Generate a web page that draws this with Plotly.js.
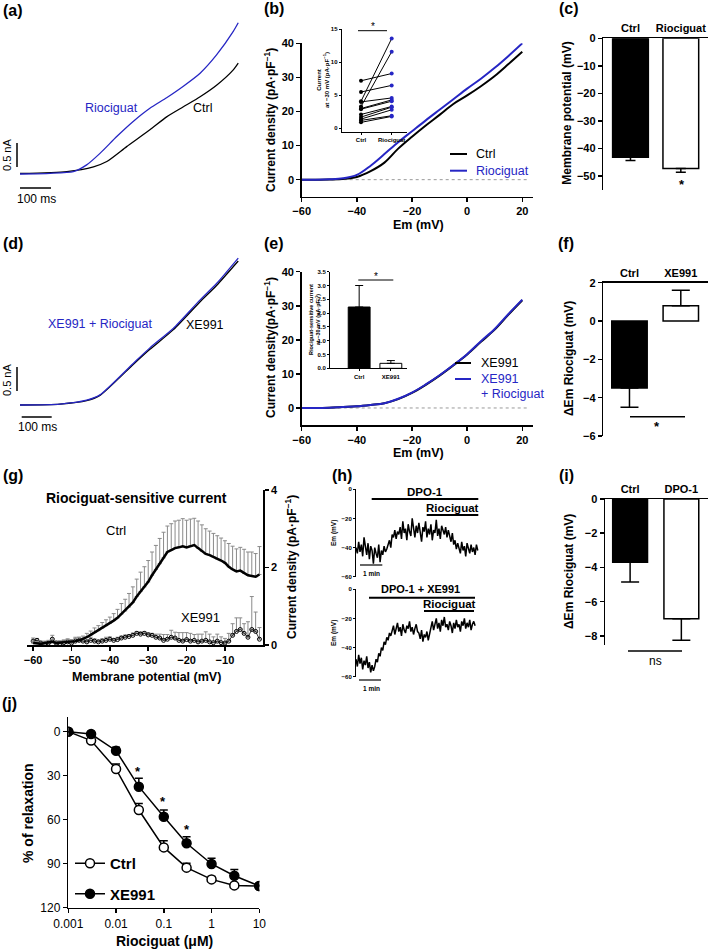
<!DOCTYPE html>
<html><head><meta charset="utf-8">
<script src="https://cdn.plot.ly/plotly-3.0.1.min.js"></script>
<style>html,body{margin:0;padding:0;background:#fff}</style>
</head><body>
<div id="chart" style="width:709px;height:950px"></div>
<script>
// ===================== DATA =====================
// (a) raw current traces: time (ms) / current (nA)
const aCtrlT = [0,151,237,280,344,419,473,527,581,634,688,704];
const aCtrlI = [0.01,0.05,0.15,0.26,0.57,0.92,1.19,1.40,1.61,1.85,2.17,2.31];
const aRioT  = [0,97,172,215,258,312,366,419,473,527,581,634,688,704];
const aRioI  = [0,0.014,0.05,0.19,0.43,0.78,1.10,1.37,1.59,1.83,2.10,2.48,2.97,3.15];
// (d) raw current traces
const dT      = [0,129,215,258,366,419,495,581,634,704];
const dXE     = [0,0.02,0.09,0.20,0.85,1.16,1.57,2.15,2.49,3.00];
const dXERio  = [0,0.02,0.10,0.21,0.87,1.19,1.60,2.19,2.53,3.06];
// (b)/(e) I-V curves
const ivV   = [-60,-55,-50,-45,-40,-35,-30,-25,-20,-15,-10,-5,0,5,10,15,20];
const bCtrl = [0,0,0.05,0.2,0.8,2.5,5.0,9.1,12.6,15.9,19.0,22.2,24.7,27.4,30.4,33.9,37.5];
const bRio  = [0,0,0.1,0.4,1.4,4.1,7.5,11.0,14.2,17.4,20.5,23.6,26.7,29.6,32.8,36.3,40.0];
const eXE    = [0,0,0.1,0.3,0.5,0.9,1.4,2.6,4.4,6.8,9.5,12.5,15.7,19.4,23.0,27.4,31.6];
const eXERio = [0,0,0.1,0.3,0.5,0.9,1.4,2.7,4.5,6.9,9.6,12.6,15.8,19.6,23.2,27.6,31.8];
// (b) inset: paired current at -30 mV
const insCats = ['Ctrl','Riociguat'];
const insCtrl = [7.2,5.5,4.1,3.3,4.0,3.0,2.9,2.1,1.7,1.4,1.2,0.9];
const insRio  = [8.3,6.5,13.6,11.6,4.6,4.3,4.1,3.3,3.2,2.8,1.9,1.8];
// (c) membrane potential
const cCats = ['Ctrl','Riociguat'];
const cVals = [-43.1,-47.2];
const cErr  = [1.2,1.4];
// (e) inset
const eInsCats = ['Ctrl','XE991'];
const eInsVals = [2.22,0.18];
const eInsErr  = [0.78,0.10];
// (f)
const fCats = ['Ctrl','XE991'];
const fVals = [-3.5,0.8];
const fErrDown = [1.0,0];
const fErrUp   = [0,0.8];
// (g) riociguat-sensitive current, -60 .. -1 mV in 1 mV steps
const gStartV = -60, gStepV = 1;
const gCtrl = [0.05,0.04,0.03,0.05,0.06,0.08,0.05,0.06,0.07,0.08,
  0.08,0.10,0.12,0.15,0.20,0.26,0.32,0.37,0.44,0.50,
  0.56,0.63,0.70,0.80,0.88,0.98,1.10,1.25,1.38,1.50,
  1.63,1.80,1.95,2.10,2.25,2.40,2.45,2.50,2.52,2.55,
  2.52,2.56,2.58,2.50,2.42,2.35,2.32,2.28,2.22,2.18,
  2.12,2.02,1.95,1.90,1.92,1.85,1.80,1.78,1.76,1.82];
const gCtrlErr = [0.05,0.05,0.04,0.05,0.06,0.06,0.05,0.05,0.06,0.06,
  0.06,0.07,0.08,0.08,0.10,0.10,0.12,0.13,0.14,0.15,
  0.16,0.18,0.22,0.27,0.30,0.35,0.40,0.45,0.50,0.52,
  0.55,0.60,0.62,0.65,0.66,0.67,0.68,0.70,0.70,0.71,
  0.70,0.69,0.69,0.70,0.68,0.65,0.62,0.60,0.60,0.58,
  0.57,0.60,0.60,0.58,0.60,0.62,0.60,0.62,0.60,0.72];
const gXE = [0.10,0.12,0.05,0.03,0.05,0.15,0.05,0.04,0.06,0.08,
  0.05,0.10,0.12,0.10,0.08,0.12,0.10,0.08,0.10,0.12,
  0.15,0.12,0.14,0.18,0.20,0.22,0.25,0.30,0.28,0.30,
  0.26,0.25,0.20,0.18,0.12,0.15,0.20,0.18,0.12,0.10,
  0.14,0.10,0.12,0.08,0.10,0.12,0.08,0.06,0.10,0.06,
  0.05,0.10,0.25,0.35,0.40,0.30,0.20,0.40,0.35,0.15];
const gXEErr = [0.08,0.05,0.05,0.04,0.05,0.10,0.05,0.05,0.06,0.08,
  0.06,0.10,0.08,0.06,0.05,0.08,0.06,0.05,0.06,0.08,
  0.06,0.05,0.06,0.05,0.06,0.05,0.06,0.05,0.06,0.05,
  0.06,0.05,0.08,0.10,0.15,0.12,0.18,0.15,0.20,0.22,
  0.18,0.20,0.15,0.20,0.18,0.22,0.20,0.15,0.18,0.15,
  0.12,0.20,0.30,0.35,0.30,0.25,0.40,0.85,0.50,0.30];
// (h) Em recordings (mV), sampled every 0.06 min
const hStepMin = 0.06;
const hDpo = [-40,-44,-36,-43,-38,-46,-33,-41,-45,-37,-48,-39,-42,-51,-40,-44,-47,-38,-50,-42,-45,-39,-43,-41,
  -38,-35,-40,-31,-33,-28,-34,-29,
  -31,-26,-34,-22,-30,-27,-35,-24,-29,-32,-20,-28,-33,-25,-30,-23,-31,-36,-26,-29,-22,-33,-27,-31,-24,-35,-28,-30,-21,-32,-27,-34,-25,-29,-31,-26,-33,-28,
  -32,-36,-30,-38,-35,-41,-37,
  -40,-44,-36,-42,-39,-46,-37,-41,-44,-38,-43,-40,-45,-38,-42];
const hDpoXe = [-48,-53,-45,-51,-47,-55,-49,-52,-46,-54,-50,-57,-52,-56,
  -53,-48,-50,-44,-46,-40,-42,-36,-38,-33,-35,-30,-32,
  -28,-25,-31,-27,-23,-29,-26,-32,-24,-28,-30,-25,-27,-22,-29,-26,-31,-27,-24,-29,
  -30,-34,-28,-36,-31,-33,-29,-35,-30,
  -26,-22,-28,-24,-20,-27,-23,-29,-21,-25,-19,-26,-24,-28,-22,-25,-30,-23,-27,-21,-26,-24,-29,-22,-25,-20,-27,-23,-26,-21,-28,-24,-22,-25];
// (i)
const iCats = ['Ctrl','DPO-1'];
const iVals = [-3.7,-7.0];
const iErr  = [1.15,1.25];
// (j) concentration-response
const conc = [0.001,0.003,0.01,0.03,0.1,0.3,1,3,10];
const jCtrl = [0,6.1,25.5,53.4,78.9,92.7,100.7,104.8,105.2];
const jCtrlErr = [0,1,3.5,4.5,4.6,3,2,1,0.5];
const jXE = [0,1.6,13,37.5,58,76.1,90.2,98.2,105.2];
const jXEErr = [0,1,2.3,5.7,4.6,4.5,3.9,4.3,0.5];
const jTicks = [0.001,0.01,0.1,1,10];
const jTickText = ['0.001','0.01','0.1','1','10'];

// ===================== HELPERS =====================
const FONT = '"Liberation Sans", Arial, Helvetica, sans-serif';
const BLUE = '#2626c4';
const W = 709, H = 950;
const px = v => v / W;
const py = v => 1 - v / H;
const dX = (a, b) => [px(a), px(b)];
const dY = (top, bot) => [py(bot), py(top)];
const zeros = a => a.map(() => 0);

function axis(o) {
  const base = {showgrid:false, zeroline:false, showline:true, linecolor:'#000', linewidth:1.5,
    ticks:'outside', ticklen:4, tickwidth:1.5, tickcolor:'#000',
    tickfont:{family:FONT, size:11, color:'#000', weight:'bold'}, fixedrange:true};
  return Object.assign(base, o);
}
const hidden = o => Object.assign({visible:false, fixedrange:true}, o);
const smallFont = s => ({family:FONT, size:s, color:'#000', weight:'bold'});

function ann(text, x, y, o) {
  o = o || {};
  const font = Object.assign({family:FONT, size:12, color:'#000'}, o.font || {});
  const a = Object.assign({text, x:px(x), y:py(y), xref:'paper', yref:'paper', showarrow:false,
    xanchor:'center', yanchor:'middle'}, o);
  a.font = font;
  return a;
}
function seg(x0, y0, x1, y1, color, w, dash) {
  return {type:'line', xref:'paper', yref:'paper', x0:px(x0), y0:py(y0), x1:px(x1), y1:py(y1),
    line:{color:color || '#000', width:w || 1.5, dash:dash || 'solid'}};
}

// ===================== TRACES =====================
const traces = [];
const noLeg = {showlegend:false, hoverinfo:'skip'};
// (a)
traces.push(Object.assign({x:aCtrlT, y:aCtrlI, xaxis:'x', yaxis:'y', mode:'lines', line:{color:'#000', width:1.3, shape:'spline', smoothing:0.6}}, noLeg));
traces.push(Object.assign({x:aRioT, y:aRioI, xaxis:'x', yaxis:'y', mode:'lines', line:{color:BLUE, width:1.3, shape:'spline', smoothing:0.6}}, noLeg));
// (b)
traces.push(Object.assign({x:ivV, y:bCtrl, xaxis:'x2', yaxis:'y2', mode:'lines', line:{color:'#000', width:2, shape:'spline'}}, noLeg));
traces.push(Object.assign({x:ivV, y:bRio, xaxis:'x2', yaxis:'y2', mode:'lines', line:{color:BLUE, width:2, shape:'spline'}}, noLeg));
// (b) inset
const pairX = [], pairY = [];
insCtrl.forEach((c, i) => { pairX.push(insCats[0], insCats[1], null); pairY.push(c, insRio[i], null); });
traces.push(Object.assign({x:pairX, y:pairY, xaxis:'x3', yaxis:'y3', mode:'lines', line:{color:'#000', width:1}}, noLeg));
traces.push(Object.assign({x:insCtrl.map(() => insCats[0]), y:insCtrl, xaxis:'x3', yaxis:'y3', mode:'markers', marker:{color:'#000', size:4}}, noLeg));
traces.push(Object.assign({x:insRio.map(() => insCats[1]), y:insRio, xaxis:'x3', yaxis:'y3', mode:'markers', marker:{color:BLUE, size:4}}, noLeg));
// (c)
traces.push(Object.assign({type:'bar', x:cCats, y:cVals, xaxis:'x4', yaxis:'y4', width:0.71,
  marker:{color:['#000','#fff'], line:{color:'#000', width:1.5}},
  error_y:{type:'data', symmetric:false, array:zeros(cErr), arrayminus:cErr, color:'#000', thickness:1.5, width:5}}, noLeg));
// (d)
traces.push(Object.assign({x:dT, y:dXE, xaxis:'x5', yaxis:'y5', mode:'lines', line:{color:'#000', width:1.3, shape:'spline', smoothing:0.6}}, noLeg));
traces.push(Object.assign({x:dT, y:dXERio, xaxis:'x5', yaxis:'y5', mode:'lines', line:{color:BLUE, width:1.3, shape:'spline', smoothing:0.6}}, noLeg));
// (e)
traces.push(Object.assign({x:ivV, y:eXE, xaxis:'x6', yaxis:'y6', mode:'lines', line:{color:'#000', width:2, shape:'spline'}}, noLeg));
traces.push(Object.assign({x:ivV, y:eXERio, xaxis:'x6', yaxis:'y6', mode:'lines', line:{color:BLUE, width:2, shape:'spline'}}, noLeg));
// (e) inset
traces.push(Object.assign({type:'bar', x:eInsCats, y:eInsVals, xaxis:'x7', yaxis:'y7', width:0.69,
  marker:{color:['#000','#fff'], line:{color:'#000', width:1}},
  error_y:{type:'data', symmetric:false, array:eInsErr, arrayminus:zeros(eInsErr), color:'#000', thickness:1, width:4}}, noLeg));
// (f)
traces.push(Object.assign({type:'bar', x:fCats, y:fVals, xaxis:'x8', yaxis:'y8', width:0.69,
  marker:{color:['#000','#fff'], line:{color:'#000', width:1.5}},
  error_y:{type:'data', symmetric:false, array:fErrUp, arrayminus:fErrDown, color:'#000', thickness:1.5, width:9}}, noLeg));
// (g)
traces.push(Object.assign({y:gXE, x0:gStartV, dx:gStepV, xaxis:'x9', yaxis:'y9', mode:'lines+markers',
  line:{color:'#000', width:0.8}, marker:{symbol:'circle-open', size:4, color:'#000', line:{width:1}},
  error_y:{type:'data', symmetric:false, array:gXEErr, arrayminus:zeros(gXEErr), color:'#8a8a8a', thickness:1, width:2}}, noLeg));
traces.push(Object.assign({y:gCtrl, x0:gStartV, dx:gStepV, xaxis:'x9', yaxis:'y9', mode:'lines',
  line:{color:'#000', width:2.5},
  error_y:{type:'data', symmetric:false, array:gCtrlErr, arrayminus:zeros(gCtrlErr), color:'#8a8a8a', thickness:1, width:2}}, noLeg));
// (h)
traces.push(Object.assign({y:hDpo, x0:0, dx:hStepMin, xaxis:'x10', yaxis:'y10', mode:'lines', line:{color:'#000', width:1.5}}, noLeg));
traces.push(Object.assign({y:hDpoXe, x0:0, dx:hStepMin, xaxis:'x11', yaxis:'y11', mode:'lines', line:{color:'#000', width:1.5}}, noLeg));
// (i)
traces.push(Object.assign({type:'bar', x:iCats, y:iVals, xaxis:'x12', yaxis:'y12', width:0.68,
  marker:{color:['#000','#fff'], line:{color:'#000', width:1.5}},
  error_y:{type:'data', symmetric:false, array:zeros(iErr), arrayminus:iErr, color:'#000', thickness:1.5, width:9}}, noLeg));
// (j)
traces.push({name:'Ctrl', legendgroup:'a', x:conc, y:jCtrl, xaxis:'x13', yaxis:'y13', mode:'lines+markers', hoverinfo:'skip',
  line:{color:'#000', width:1.5}, marker:{symbol:'circle', size:9, color:'#fff', line:{color:'#000', width:1.5}},
  error_y:{type:'data', symmetric:false, array:zeros(jCtrlErr), arrayminus:jCtrlErr, color:'#000', thickness:1.5, width:4}});
traces.push({name:'XE991', legendgroup:'b', x:conc, y:jXE, xaxis:'x13', yaxis:'y13', mode:'lines+markers', hoverinfo:'skip',
  line:{color:'#000', width:1.5}, marker:{symbol:'circle', size:9, color:'#000', line:{color:'#000', width:1.5}},
  error_y:{type:'data', symmetric:false, array:zeros(jXEErr), arrayminus:jXEErr, color:'#000', thickness:1.5, width:4}});

// ===================== LAYOUT =====================
const tinyTick = {ticklen:2, tickwidth:1, linewidth:1};
const layout = {
  width:W, height:H, margin:{l:0, r:0, t:0, b:0},
  paper_bgcolor:'#fff', plot_bgcolor:'rgba(0,0,0,0)',
  font:{family:FONT, color:'#000'},
  showlegend:true,
  legend:{x:px(70), y:py(847), xanchor:'left', yanchor:'top', traceorder:'grouped', tracegroupgap:8,
    bgcolor:'rgba(0,0,0,0)', font:{family:FONT, size:15, color:'#000', weight:'bold'}},
  xaxis:hidden({domain:dX(15,240), range:[-16.13,709.68], anchor:'y'}),
  yaxis:hidden({domain:dY(15,200), range:[-0.5417,3.3125], anchor:'x'}),
  xaxis2:axis({domain:dX(301.7,533.3), range:[-60,24], tickvals:[-60,-40,-20,0,20], anchor:'y2'}),
  yaxis2:axis({domain:dY(43.3,196.7), range:[-5,40], tickvals:[0,10,20,30,40], anchor:'x2'}),
  xaxis3:axis(Object.assign({domain:dX(341.7,406.7), type:'category', range:[-0.63,1.49], anchor:'y3', tickfont:smallFont(6)}, tinyTick)),
  yaxis3:axis(Object.assign({domain:dY(29.3,131.6), range:[-0.5,15], tickvals:[0,5,10,15], anchor:'x3', tickfont:smallFont(6)}, tinyTick)),
  xaxis4:axis({domain:dX(603.3,708), type:'category', range:[-0.54,1.54], side:'top', ticks:'', anchor:'y4'}),
  yaxis4:axis({domain:dY(38.3,190), range:[-55,0], tickvals:[-50,-40,-30,-20,-10,0], anchor:'x4'}),
  xaxis5:hidden({domain:dX(15,240), range:[-16.13,709.68], anchor:'y5'}),
  yaxis5:hidden({domain:dY(245,430), range:[-0.521,3.333], anchor:'x5'}),
  xaxis6:axis({domain:dX(301.7,533.3), range:[-60,24], tickvals:[-60,-40,-20,0,20], anchor:'y6'}),
  yaxis6:axis({domain:dY(271.7,425), range:[-5,40], tickvals:[0,10,20,30,40], anchor:'x6'}),
  xaxis7:axis(Object.assign({domain:dX(330,406.7), type:'category', range:[-0.92,1.5], anchor:'y7', tickfont:smallFont(6)}, tinyTick)),
  yaxis7:axis(Object.assign({domain:dY(271.7,368.3), range:[0,3.5], tickvals:[0,0.5,1,1.5,2,2.5,3,3.5], tickformat:'.1f', anchor:'x7', tickfont:smallFont(6)}, tinyTick)),
  xaxis8:axis({domain:dX(603.3,708), type:'category', range:[-0.51,1.53], side:'top', ticks:'', anchor:'y8'}),
  yaxis8:axis({domain:dY(282.7,436), range:[-6,2], tickvals:[-6,-4,-2,0,2], anchor:'x8'}),
  xaxis9:axis({domain:dX(27,263.3), range:[-61.6,0], tickvals:[-60,-50,-40,-30,-20,-10], anchor:'y9'}),
  yaxis9:axis({domain:dY(490,645), range:[0,4], tickvals:[0,2,4], side:'right', anchor:'x9'}),
  xaxis10:hidden({domain:dX(356,480), range:[0,5.56], anchor:'y10'}),
  yaxis10:axis(Object.assign({domain:dY(489.3,576.7), range:[-60,0], tickvals:[-60,-40,-20,0], anchor:'x10', tickfont:smallFont(6)}, tinyTick)),
  xaxis11:hidden({domain:dX(356,480), range:[0,5.56], anchor:'y11'}),
  yaxis11:axis(Object.assign({domain:dY(589.3,676.7), range:[-60,0], tickvals:[-60,-40,-20,0], anchor:'x11', tickfont:smallFont(6)}, tinyTick)),
  xaxis12:axis({domain:dX(605,708), type:'category', range:[-0.49,1.52], side:'top', ticks:'', anchor:'y12'}),
  yaxis12:axis({domain:dY(499,644.5), range:[-8.5,0], tickvals:[-8,-6,-4,-2,0], anchor:'x12'}),
  xaxis13:axis({domain:dX(68.3,259.3), type:'log', range:[-3,1], tickvals:jTicks, ticktext:jTickText, anchor:'y13',
    tickfont:{family:FONT, size:12, color:'#000'}}),
  yaxis13:axis({domain:dY(716.7,907.7), range:[120,-10.2], tickvals:[0,30,60,90,120], anchor:'x13',
    tickfont:{family:FONT, size:12, color:'#000'}}),
  shapes:[
    // scale bars (a)
    seg(17,143,17,167), seg(20,188,51,188),
    // scale bars (d)
    seg(17,367,17,391), seg(21.7,417,51.7,417),
    // dotted zero lines (b),(e)
    {type:'line', xref:'x2', yref:'y2', x0:-60, x1:22, y0:0, y1:0, layer:'below', line:{color:'#999', width:1, dash:'dot'}},
    {type:'line', xref:'x6', yref:'y6', x0:-60, x1:22, y0:0, y1:0, layer:'below', line:{color:'#999', width:1, dash:'dot'}},
    // legends (b),(e)
    seg(450,154,467,154,'#000',2), seg(450,170.7,467,170.7,BLUE,2),
    seg(455,363,471,363,'#000',2), seg(455,379,471,379,BLUE,2),
    // significance lines
    seg(358,30.7,387,30.7,'#000',1), seg(358.3,280,393.3,280,'#000',1),
    seg(630,416.7,685,416.7), seg(628,651,682,651),
    // (h) bars
    seg(371.7,499,478.3,499,'#000',2), seg(426.7,515,478.3,515,'#000',2),
    seg(369,597.7,475,597.7,'#000',2), seg(424,611,474,611,'#000',2),
    seg(360,565,382.3,565,'#000',1.2), seg(359,680,381,680,'#000',1.2)
  ],
  annotations:[
    ann('<b>(a)</b>',12.5,10,{font:{size:16}}),
    ann('<b>(b)</b>',274,9,{font:{size:16}}),
    ann('<b>(c)</b>',569,9,{font:{size:16}}),
    ann('<b>(d)</b>',12.5,243,{font:{size:16}}),
    ann('<b>(e)</b>',274,243,{font:{size:16}}),
    ann('<b>(f)</b>',566,243,{font:{size:16}}),
    ann('<b>(g)</b>',12.5,475,{font:{size:16}}),
    ann('<b>(h)</b>',342,475,{font:{size:16}}),
    ann('<b>(i)</b>',566,475,{font:{size:16}}),
    ann('<b>(j)</b>',9.5,703,{font:{size:16}}),
    // (a)
    ann('Riociguat',111,108,{font:{size:12.5,color:BLUE}}),
    ann('Ctrl',202,108,{font:{size:12.5}}),
    ann('0.5 nA',7,155,{textangle:-90,font:{size:11}}),
    ann('100 ms',36,199,{font:{size:12}}),
    // (d)
    ann('XE991 + Riociguat',100,324,{font:{size:12.5,color:BLUE}}),
    ann('XE991',205,325,{font:{size:12.5}}),
    ann('0.5 nA',7,380,{textangle:-90,font:{size:11}}),
    ann('100 ms',37.5,427,{font:{size:12}}),
    // (b)
    ann('<b>Current density (pA·pF<sup>−1</sup>)</b>',270,120,{textangle:-90,font:{size:12}}),
    ann('<b>Em (mV)</b>',418,225,{font:{size:12.5}}),
    ann('Ctrl',474,154,{xanchor:'left',font:{size:12.5}}),
    ann('Riociguat',474,170.7,{xanchor:'left',font:{size:12.5,color:BLUE}}),
    ann('<b>Current<br>at −30 mV (pA·pF<sup>−1</sup>)</b>',323,80,{textangle:-90,font:{size:6}}),
    ann('*',372.5,27,{font:{size:10}}),
    // (c)
    ann('<b>Membrane potential (mV)</b>',566.7,113,{textangle:-90,font:{size:12}}),
    ann('<b>*</b>',681.7,184,{font:{size:13}}),
    // (e)
    ann('<b>Current density(pA·pF<sup>−1</sup>)</b>',270,348,{textangle:-90,font:{size:12}}),
    ann('<b>Em (mV)</b>',418,453,{font:{size:12.5}}),
    ann('XE991',479,363,{xanchor:'left',font:{size:12.5}}),
    ann('XE991',479,379,{xanchor:'left',font:{size:12.5,color:BLUE}}),
    ann('+ Riociguat',479,394,{xanchor:'left',font:{size:12.5,color:BLUE}}),
    ann('<b>Riociguat-sensitive current<br>at −30 mV (pA·pF<sup>−1</sup>)</b>',315,320,{textangle:-90,font:{size:5.5}}),
    ann('*',376,276,{font:{size:10}}),
    // (f)
    ann('<b>ΔEm Riociguat (mV)</b>',569,359,{textangle:-90,font:{size:12}}),
    ann('<b>*</b>',656.7,427,{font:{size:13}}),
    // (g)
    ann('<b>Riociguat-sensitive current</b>',136,498,{font:{size:14}}),
    ann('Ctrl',116,530,{font:{size:13}}),
    ann('XE991',200,617,{font:{size:13}}),
    ann('<b>Current density (pA·pF<sup>−1</sup>)</b>',291,567,{textangle:-90,font:{size:12}}),
    ann('<b>Membrane potential (mV)</b>',146,677,{font:{size:12.5}}),
    // (h)
    ann('<b>DPO-1</b>',425,492,{font:{size:11.5}}),
    ann('<b>Riociguat</b>',452.5,508,{font:{size:11.5}}),
    ann('<b>DPO-1 + XE991</b>',420.5,589,{font:{size:11}}),
    ann('<b>Riociguat</b>',449,604,{font:{size:11.5}}),
    ann('<b>1 min</b>',371,573,{font:{size:6.5}}),
    ann('<b>1 min</b>',371,688,{font:{size:6.5}}),
    ann('<b>Em (mV)</b>',334,533,{textangle:-90,font:{size:6.5}}),
    ann('<b>Em (mV)</b>',334,633,{textangle:-90,font:{size:6.5}}),
    // (i)
    ann('<b>ΔEm Riociguat (mV)</b>',569,572,{textangle:-90,font:{size:12}}),
    ann('ns',655,661,{font:{size:12}}),
    // (j)
    ann('<b>% of relaxation</b>',28,813,{textangle:-90,font:{size:14}}),
    ann('<b>Riociguat (μM)</b>',164,941,{font:{size:14}}),
    ann('<b>*</b>',138,771,{font:{size:13}}),
    ann('<b>*</b>',163.3,801,{font:{size:13}}),
    ann('<b>*</b>',186.7,829,{font:{size:13}})
  ]
};

Plotly.newPlot('chart', traces, layout, {displayModeBar:false, staticPlot:true});
</script>
</body></html>
